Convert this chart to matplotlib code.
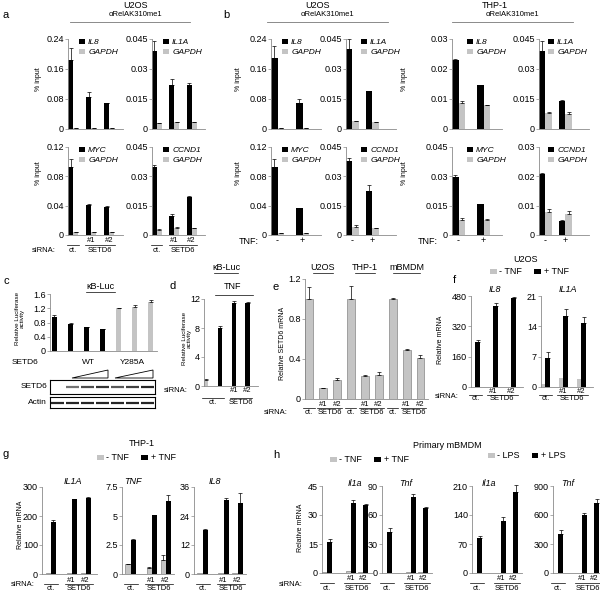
import numpy as np
import matplotlib
matplotlib.use('Agg')
import matplotlib.pyplot as plt
from matplotlib.lines import Line2D
from matplotlib.patches import Patch, Polygon

plt.rcParams['font.family'] = ['Liberation Sans', 'DejaVu Sans']

# ---------------- data ----------------
# a: U2OS ChIP (aRelAK310me1), siRNA ct. / #1 / #2
a_il8 = [0.184, 0.086, 0.068]
a_il8_err = [0.031, 0.013, 0.001]
a_il8_gapdh = [0.003, 0.003, 0.002]
a_il1a = [0.039, 0.022, 0.022]
a_il1a_err = [0.005, 0.003, 0.001]
a_il1a_gapdh = [0.003, 0.0035, 0.0035]
a_myc = [0.093, 0.041, 0.038]
a_myc_err = [0.010, 0.001, 0.002]
a_myc_gapdh = [0.004, 0.004, 0.004]
a_ccnd1 = [0.035, 0.0097, 0.0192]
a_ccnd1_err = [0.001, 0.001, 0.0006]
a_ccnd1_gapdh = [0.0027, 0.0037, 0.0035]
a_ccnd1_gapdh_err = [0.0005, 0.0003, 0.0003]

# b: ChIP (aRelAK310me1), TNF - / +
bu_il8 = [0.19, 0.07]
bu_il8_err = [0.03, 0.011]
bu_il8_gapdh = [0.003, 0.002]
bu_il1a = [0.040, 0.0188]
bu_il1a_err = [0.005, 0.0003]
bu_il1a_gapdh = [0.004, 0.0035]
bu_myc = [0.093, 0.037]
bu_myc_err = [0.010, 0.0]
bu_myc_gapdh = [0.003, 0.003]
bu_ccnd1 = [0.038, 0.0224]
bu_ccnd1_err = [0.0015, 0.0032]
bu_ccnd1_gapdh = [0.004, 0.0035]
bu_ccnd1_gapdh_err = [0.001, 0.0003]

bt_il8 = [0.023, 0.0146]
bt_il8_err = [0.0003, 0.0]
bt_il8_gapdh = [0.0087, 0.0079]
bt_il8_gapdh_err = [0.0005, 0.0]
bt_il1a = [0.0389, 0.014]
bt_il1a_err = [0.005, 0.0005]
bt_il1a_gapdh = [0.0081, 0.0073]
bt_il1a_gapdh_err = [0.0005, 0.001]
bt_myc = [0.0299, 0.0158]
bt_myc_err = [0.001, 0.0]
bt_myc_gapdh = [0.0077, 0.0076]
bt_myc_gapdh_err = [0.001, 0.0006]
bt_ccnd1 = [0.0209, 0.0048]
bt_ccnd1_err = [0.0003, 0.0002]
bt_ccnd1_gapdh = [0.008, 0.0073]
bt_ccnd1_gapdh_err = [0.0007, 0.0008]

# c: kB-Luc, no SETD6 + WT x3 (black), Y285A x3 (grey)
c_vals = [0.95, 0.75, 0.66, 0.61, 1.2, 1.23, 1.38]
c_err = [0.05, 0.04, 0.01, 0.02, 0.02, 0.06, 0.04]
c_is_mut = [0, 0, 0, 0, 1, 1, 1]
blot_setd6 = [0.0, 0.55, 0.7, 0.8, 0.65, 0.75, 0.85]
blot_actin = [0.85, 0.85, 0.85, 0.85, 0.85, 0.85, 0.85]

# d: kB-Luc, ct. (-TNF), ct./#1/#2 (+TNF)
d_vals = [0.8, 8.0, 11.4, 11.4]
d_err = [0.1, 0.3, 0.3, 0.2]
d_tnf = [0, 1, 1, 1]

# e: relative SETD6 mRNA (U2OS, THP-1, mBMDM x ct./#1/#2)
e_cells = ['U2OS', 'THP-1', 'mBMDM']
e_vals = [1.0, 0.11, 0.19, 1.0, 0.23, 0.24, 1.0, 0.49, 0.41]
e_err = [0.12, 0.005, 0.02, 0.13, 0.01, 0.03, 0.01, 0.01, 0.03]

# f: U2OS relative mRNA, -TNF / +TNF
f_il8_minus = [1, 1, 1]
f_il8_plus = [240, 425, 468]
f_il8_err = [10, 20, 8]
f_il1a_minus = [0.7, 2.0, 1.8]
f_il1a_plus = [6.8, 16.4, 14.7]
f_il1a_err = [1.3, 1.5, 1.5]

# g: THP-1 relative mRNA, -TNF / +TNF
g_il1a_minus = [2, 3, 3]
g_il1a_plus = [180, 257, 263]
g_il1a_err = [6, 2, 3]
g_tnf_minus = [0.9, 0.51, 1.22]
g_tnf_minus_err = [0.0, 0.1, 0.4]
g_tnf_plus = [2.94, 5.08, 6.3]
g_tnf_err = [0.05, 0.0, 0.5]
g_il8_minus = [0.5, 0.5, 0.5]
g_il8_plus = [18.2, 30.5, 29.4]
g_il8_err = [0.4, 1.0, 4.0]

# h: primary mBMDM relative mRNA
h_il1a_minus = [0.6, 0.8, 0.5]
h_il1a_plus = [16, 36.3, 35]
h_il1a_err = [1.8, 1.5, 0.5]
h_tnf_minus = [0.5, 0.6, 0.6]
h_tnf_plus = [42, 79, 67]
h_tnf_err = [5, 3, 1]
h_lps_il1a_minus = [1, 1, 1]
h_lps_il1a_plus = [85, 125, 195]
h_lps_il1a_err = [5, 10, 18]
h_lps_tnf_minus = [3, 3, 3]
h_lps_tnf_plus = [400, 600, 725]
h_lps_tnf_err = [40, 25, 40]

# ---------------- style / helpers ----------------
W, H = 600, 596
BLACK = '#000000'
GREY = '#c4c4c4'
AXC = '#8a8a8a'
FS = 6.5
FS2 = 5.5

fig = plt.figure(figsize=(W / 100, H / 100), dpi=100)


def add_ax(x0, y0, x1, y1):
    ax = fig.add_axes([x0 / W, 1 - y1 / H, (x1 - x0) / W, (y1 - y0) / H])
    ax.spines[['top', 'right']].set_visible(False)
    for s in ['left', 'bottom']:
        ax.spines[s].set_color(AXC)
        ax.spines[s].set_linewidth(0.6)
    ax.tick_params(axis='y', length=2, width=0.5, color=AXC, pad=1, labelsize=FS)
    ax.tick_params(axis='x', length=0, labelbottom=False)
    ax.patch.set_visible(False)
    return ax


def set_y(ax, ticks, labels=None):
    ax.set_ylim(0, ticks[-1])
    ax.set_yticks(ticks)
    ax.set_yticklabels(labels if labels else [('%g' % t) for t in ticks])


def T(x, y, s, size=FS, ha='center', va='center', **kw):
    fig.text(x / W, 1 - y / H, s, size=size, ha=ha, va=va, **kw)


def L(x0, x1, y, color='k', lw=0.6):
    fig.add_artist(Line2D([x0 / W, x1 / W], [1 - y / H, 1 - y / H], color=color, lw=lw))


def bars(ax, x, vals, errs, color, w, edge='none'):
    ax.bar(x, vals, width=w, color=color, edgecolor=edge, linewidth=0.4 if edge != 'none' else 0)
    if errs is None:
        return
    eb = ax.errorbar(x, vals, yerr=[np.zeros(len(vals)), errs], fmt='none', ecolor='k',
                     elinewidth=0.5, capsize=1.2, capthick=0.5)
    for a in list(eb.lines[1]) + list(eb.lines[2]):
        a.set_clip_on(False)


def below(ax, x, dy, s, size=FS2):
    ax.annotate(s, xy=(x, 0), xycoords=('data', 'axes fraction'), xytext=(0, -dy),
                textcoords='offset pixels', ha='center', va='center', fontsize=size)


def above(ax, x, dy, s, size=FS, **kw):
    ax.annotate(s, xy=(x, 1), xycoords=('data', 'axes fraction'), xytext=(0, dy),
                textcoords='offset pixels', ha='center', va='center', fontsize=size, **kw)


def hline(ax, xa, xb, dy, top=False):
    # dy in pixels, measured from the bottom (or the top) of the axes
    h = ax.get_position().height * H
    y = (1.0 if top else 0.0) + dy / h
    ax.plot([xa, xb], [y, y], transform=ax.get_xaxis_transform(),
            clip_on=False, color='k', lw=0.5)


def sirna_labels(ax, pos, hw, d1, d2, d3):
    below(ax, pos[1], d1, '#1')
    below(ax, pos[2], d1, '#2')
    hline(ax, pos[0] - hw, pos[0] + hw, -d2)
    hline(ax, pos[1] - hw, pos[2] + hw, -d2)
    below(ax, pos[0], d3, 'ct.')
    below(ax, (pos[1] + pos[2]) / 2, d3, 'SETD6')


def gene_legend(ax, gene, dx_px, width_px):
    hs = [Patch(facecolor=BLACK), Patch(facecolor=GREY)]
    ax.legend(hs, [gene, 'GAPDH'], loc='upper left', bbox_to_anchor=(dx_px / width_px, 1.0),
              frameon=False, prop={'style': 'italic', 'size': 6}, handlelength=0.75,
              handleheight=0.5, handletextpad=0.35, labelspacing=0.3, borderpad=0,
              borderaxespad=0)


def tnf_legend(x, y, labels):
    hs = [Patch(facecolor=GREY), Patch(facecolor=BLACK)]
    fig.legend(hs, labels, loc='center left', bbox_to_anchor=(x / W, 1 - y / H), ncol=2,
               frameon=False, prop={'size': 6.5}, handlelength=0.75, handleheight=0.55,
               handletextpad=0.3, columnspacing=1.3, borderpad=0, borderaxespad=0)


def chip(rect, gene, vals, errs, gapdh, gerr, ticks, tlabels, unit, w, leg_dx):
    ax = add_ax(*rect)
    n = len(vals)
    x = np.arange(n)
    bars(ax, x - w / 2, vals, errs, BLACK, w)
    bars(ax, x + w / 2, gapdh, gerr if gerr is not None else [0] * n, GREY, w)
    ax.set_xlim(-w, -w + (rect[2] - rect[0]) / unit)
    set_y(ax, ticks, tlabels)
    gene_legend(ax, gene, leg_dx, rect[2] - rect[0])
    return ax


t24 = ([0, 0.08, 0.16, 0.24], ['0', '0.08', '0.16', '0.24'])
t045 = ([0, 0.015, 0.03, 0.045], ['0', '0.015', '0.03', '0.045'])
t12 = ([0, 0.04, 0.08, 0.12], ['0', '0.04', '0.08', '0.12'])
t03 = ([0, 0.01, 0.02, 0.03], ['0', '0.01', '0.02', '0.03'])

# ---------------- panel a ----------------
T(6, 15, 'a', size=8)
T(135, 6, 'U2OS', size=6.5)
T(135, 15, '\u03b1RelAK310me1', size=5.5)
L(70, 190, 22, color='#777777')
aw = 0.28
chip((68, 39, 123, 129), 'IL8', a_il8, a_il8_err, a_il8_gapdh, None, *t24, 18, aw, 11)
chip((152, 39, 205, 129), 'IL1A', a_il1a, a_il1a_err, a_il1a_gapdh, None, *t045, 17.4, aw, 11)
ax_myc = chip((68, 147, 123, 235), 'MYC', a_myc, a_myc_err, a_myc_gapdh, None, *t12, 18, aw, 11)
ax_ccn = chip((152, 147, 205, 235), 'CCND1', a_ccnd1, a_ccnd1_err, a_ccnd1_gapdh,
              a_ccnd1_gapdh_err, *t045, 17.4, aw, 11)
for ax in (ax_myc, ax_ccn):
    sirna_labels(ax, [0, 1, 2], 0.32, 6, 10, 15)
T(44, 250, 'siRNA:', size=FS2)
T(38, 79, '% input', size=5, rotation=90)
T(38, 173, '% input', size=5, rotation=90)

# ---------------- panel b ----------------
T(226, 15, 'b', size=8)
T(318, 6, 'U2OS', size=6.5)
T(327, 15, '\u03b1RelAK310me1', size=5.5)
L(267, 388, 22, color='#777777')
T(495, 6, 'THP-1', size=6.5)
T(512, 15, '\u03b1RelAK310me1', size=5.5)
L(452, 573, 22, color='#777777')
bw1, bw2 = 0.26, 0.32
b_axes = [
    chip((271, 39, 321, 129), 'IL8', bu_il8, bu_il8_err, bu_il8_gapdh, None, *t24, 25, bw1, 11),
    chip((346, 39, 396, 129), 'IL1A', bu_il1a, bu_il1a_err, bu_il1a_gapdh, None, *t045, 20, bw2, 15),
    chip((452, 39, 502, 129), 'IL8', bt_il8, bt_il8_err, bt_il8_gapdh, bt_il8_gapdh_err, *t03, 25, bw1, 15),
    chip((539, 39, 589, 129), 'IL1A', bt_il1a, bt_il1a_err, bt_il1a_gapdh, bt_il1a_gapdh_err, *t045, 20, bw2, 9),
]
b_bottom = [
    chip((271, 147, 321, 235), 'MYC', bu_myc, bu_myc_err, bu_myc_gapdh, None, *t12, 25, bw1, 11),
    chip((346, 147, 396, 235), 'CCND1', bu_ccnd1, bu_ccnd1_err, bu_ccnd1_gapdh, bu_ccnd1_gapdh_err, *t045, 20, bw2, 15),
    chip((452, 147, 502, 235), 'MYC', bt_myc, bt_myc_err, bt_myc_gapdh, bt_myc_gapdh_err, *t045, 25, bw1, 15),
    chip((539, 147, 589, 235), 'CCND1', bt_ccnd1, bt_ccnd1_err, bt_ccnd1_gapdh, bt_ccnd1_gapdh_err, *t03, 20, bw2, 9),
]
for ax in b_bottom:
    below(ax, 0, 6, '-', size=FS)
    below(ax, 1, 6, '+', size=FS)
T(249, 241, 'TNF:', size=FS)
T(428, 242, 'TNF:', size=FS)
for x in (238, 405):
    T(x, 79, '% input', size=5, rotation=90)
    T(x, 173, '% input', size=5, rotation=90)

# ---------------- panel c ----------------
T(6, 281, 'c', size=8)
T(100, 287, '\u03baB-Luc', size=6.5)
L(86, 115, 292, lw=0.5)
axc = add_ax(50, 294, 157, 351)
cx = np.arange(len(c_vals))
c_cols = [GREY if m else BLACK for m in c_is_mut]
bars(axc, cx, c_vals, c_err, c_cols, 0.31)
axc.set_xlim(-0.28, 6.4)
set_y(axc, [0, 0.4, 0.8, 1.2, 1.6])
T(20, 318, 'Relative Luciferase\nactivity', size=4.5, rotation=90, linespacing=1.0)
T(25, 363, 'SETD6', size=6)
T(88, 363, 'WT', size=6)
T(132, 363, 'Y285A', size=6)
for x0, x1 in ((72, 108), (115, 153)):
    fig.add_artist(Polygon([(x0 / W, 1 - 378 / H), (x1 / W, 1 - 378 / H), (x1 / W, 1 - 370 / H)],
                           closed=True, fill=False, edgecolor='k', lw=0.6,
                           transform=fig.transFigure))
for (y0, y1), band, name in (((380, 394), blot_setd6, 'SETD6'), ((397, 408), blot_actin, 'Actin')):
    axb = fig.add_axes([50 / W, 1 - y1 / H, 105 / W, (y1 - y0) / H])
    axb.set_xticks([])
    axb.set_yticks([])
    for s in axb.spines.values():
        s.set_linewidth(0.8)
    lanes = np.arange(len(band))
    axb.hlines([0.5] * len(band), lanes - 0.42, lanes + 0.42,
               colors=[str(1 - v) for v in band], lw=1.6)
    axb.set_xlim(-0.5, len(band) - 0.5)
    axb.set_ylim(0, 1)
    T(47, (y0 + y1) / 2, name, size=6, ha='right')

# ---------------- panel d ----------------
T(173, 286, 'd', size=8)
T(226, 268, '\u03baB-Luc', size=6.5)
L(214, 238, 273, lw=0.5)
T(233, 287, 'TNF', size=6.5)
L(215, 253, 295, lw=0.5)
axd = add_ax(204, 299, 258, 386)
dx = np.arange(len(d_vals))
bars(axd, dx, d_vals, d_err, [BLACK if t else GREY for t in d_tnf], 0.32)
axd.set_xlim(-0.16, 3.75)
set_y(axd, [0, 4, 8, 12])
T(187, 338, 'Relative Luciferase\nactivity', size=4.5, rotation=90, linespacing=1.0)
T(176, 391, 'siRNA:', size=FS2)
below(axd, 2, 5, '#1')
below(axd, 3, 5, '#2')
hline(axd, -0.3, 1.3, -12)
hline(axd, 1.7, 3.3, -12)
below(axd, 0.5, 17, 'ct.')
below(axd, 2.5, 17, 'SETD6')

# ---------------- panel e ----------------
T(276, 287, 'e', size=8)
axe = add_ax(305, 279, 428, 399)
ex = np.arange(len(e_vals))
bars(axe, ex, e_vals, e_err, GREY, 0.57, edge='#6f6f6f')
axe.set_xlim(-0.29, 8.54)
set_y(axe, [0, 0.4, 0.8, 1.2])
for i, cell in enumerate(e_cells):
    above(axe, 3 * i + 1, 11, cell)
    hw = 0.95 if cell == 'mBMDM' else 0.7
    hline(axe, 3 * i + 1 - hw, 3 * i + 1 + hw, 6, top=True)
    sirna_labels(axe, [3 * i, 3 * i + 1, 3 * i + 2], 0.4, 5, 9, 14)
T(283, 343, 'Relative SETD6 mRNA', size=5, rotation=90)
T(276, 412, 'siRNA:', size=FS2)

# ---------------- panel f ----------------
T(454, 280, 'f', size=8)
T(525, 259, 'U2OS', size=6.5)
tnf_legend(490, 272, ['- TNF', '+ TNF'])
fw = 0.25
for rect, title, tx, mn, pl, er, ticks in (
        ((471, 296, 523, 387), 'IL8', 495, f_il8_minus, f_il8_plus, f_il8_err, [0, 160, 320, 480]),
        ((541, 296, 593, 387), 'IL1A', 568, f_il1a_minus, f_il1a_plus, f_il1a_err, [0, 7, 14, 21])):
    ax = add_ax(*rect)
    x = np.arange(3)
    bars(ax, x - fw / 2, mn, None, GREY, fw)
    bars(ax, x + fw / 2, pl, er, BLACK, fw)
    ax.set_xlim(-fw, 2.65)
    set_y(ax, ticks)
    T(tx, 290, title, size=6.5, style='italic')
    sirna_labels(ax, [0, 1, 2], 0.35, 4.5, 7.5, 12)
T(441, 340, 'Relative mRNA', size=5, rotation=90)
T(447, 397, 'siRNA:', size=FS2)

# ---------------- panel g ----------------
T(6, 454, 'g', size=8)
T(142, 444, 'THP-1', size=6.5)
tnf_legend(97, 458, ['- TNF', '+ TNF'])
gpos = np.array([0, 1.5, 2.5])
gw = 0.36
for rect, title, tx, mn, mne, pl, er, ticks in (
        ((42, 487, 97, 574), 'IL1A', 73, g_il1a_minus, None, g_il1a_plus, g_il1a_err, [0, 100, 200, 300]),
        ((122, 487, 174, 574), 'TNF', 133, g_tnf_minus, g_tnf_minus_err, g_tnf_plus, g_tnf_err, [0, 2.5, 5, 7.5]),
        ((194, 487, 246, 574), 'IL8', 215, g_il8_minus, None, g_il8_plus, g_il8_err, [0, 12, 24, 36])):
    ax = add_ax(*rect)
    bars(ax, gpos - gw / 2, mn, mne, GREY, gw, edge='#6f6f6f')
    bars(ax, gpos + gw / 2, pl, er, BLACK, gw)
    xl = -gw - 0.25
    ax.set_xlim(xl, xl + (rect[2] - rect[0]) / 14)
    set_y(ax, ticks)
    T(tx, 482, title, size=6.5, style='italic')
    sirna_labels(ax, gpos, 0.5, 6, 10, 15)
T(20, 525, 'Relative mRNA', size=5, rotation=90)
T(23, 585, 'siRNA:', size=FS2)

# ---------------- panel h ----------------
T(276, 455, 'h', size=8)
T(447, 445, 'Primary mBMDM', size=6.5)
tnf_legend(330, 460, ['- TNF', '+ TNF'])
tnf_legend(488, 456, ['- LPS', '+ LPS'])
hpos = np.array([0, 1.7, 2.6])
for rect, title, tx, mn, pl, er, ticks in (
        ((322, 486, 372, 573), 'Il1a', 355, h_il1a_minus, h_il1a_plus, h_il1a_err, [0, 15, 30, 45]),
        ((382, 486, 432, 573), 'Tnf', 406, h_tnf_minus, h_tnf_plus, h_tnf_err, [0, 30, 60, 90]),
        ((472, 486, 522, 573), 'Il1a', 489, h_lps_il1a_minus, h_lps_il1a_plus, h_lps_il1a_err, [0, 70, 140, 210]),
        ((553, 486, 600, 573), 'Tnf', 568, h_lps_tnf_minus, h_lps_tnf_plus, h_lps_tnf_err, [0, 300, 600, 900])):
    ax = add_ax(*rect)
    bars(ax, hpos - gw / 2, mn, None, GREY, gw, edge='#6f6f6f')
    bars(ax, hpos + gw / 2, pl, er, BLACK, gw)
    ax.set_xlim(-gw, -gw + (rect[2] - rect[0]) / 14)
    set_y(ax, ticks)
    T(tx, 483, title, size=6.5, style='italic')
    sirna_labels(ax, hpos, 0.5, 6, 10, 15)
T(300, 528, 'Relative mRNA', size=5, rotation=90)
T(291, 584, 'siRNA:', size=FS2)

fig.savefig('out.png', dpi=100)
